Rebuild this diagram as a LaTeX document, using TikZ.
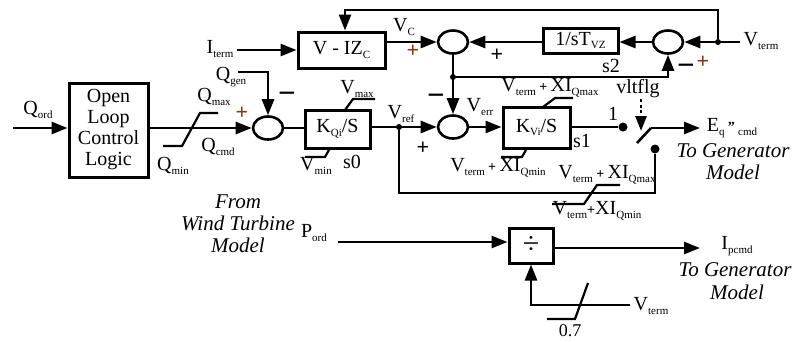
\documentclass[tikz,border=0pt]{standalone}
\usepackage{fontspec}
\setmainfont{Liberation Serif}
\usetikzlibrary{arrows.meta,shapes.geometric}
\newcommand\sbs[1]{\raisebox{-3.5pt}{\fontsize{11}{11}\selectfont #1}}
\newcommand\smplus{{\fontsize{14}{14}\selectfont\bfseries +}}
\definecolor{plusbrown}{RGB}{130,55,25}
\begin{document}
\begin{tikzpicture}[x=1pt,y=-1pt,
  conn/.style={line width=2.6pt,-{Triangle[length=16pt,width=12pt]}},
  wire/.style={line width=2.6pt},
  blk/.style={draw,line width=3pt,inner sep=0pt,font=\fontsize{20}{24}\selectfont},
  sumc/.style={draw,ellipse,line width=2.6pt,minimum width=30pt,minimum height=23pt,inner sep=0pt},
  lim/.style={line width=2.2pt},
  lbl/.style={inner sep=0pt,font=\fontsize{20}{24}\selectfont},
  ital/.style={inner sep=0pt,font=\fontsize{21}{21}\selectfont\itshape},
  plus/.style={inner sep=0pt,font=\fontsize{22}{22}\selectfont\bfseries},
  minus/.style={inner sep=0pt,font=\fontsize{31}{31}\selectfont\bfseries},
  term/.style={circle,fill,inner sep=0pt,minimum size=9pt},
  jn/.style={circle,fill,inner sep=0pt,minimum size=6pt},
]
\useasboundingbox (0,0) rectangle (795,341);

% blocks
\node[blk,minimum width=79pt,minimum height=94pt,align=center,font=\fontsize{20}{21}\selectfont] (olcl) at (108.5,130) {Open\\Loop\\Control\\Logic};
\node[blk,minimum width=65pt,minimum height=38pt] (kqi) at (337.5,129) {K\sbs{Qi}/S};
\node[blk,minimum width=67pt,minimum height=41pt] (kvi) at (536.5,127.5) {K\sbs{Vi}/S};
\node[blk,minimum width=87pt,minimum height=36pt] (vizc) at (341.5,50) {V - IZ\sbs{C}};
\node[blk,minimum width=75pt,minimum height=25pt] (tvz) at (580.5,40.5) {1/sT\sbs{VZ}};
\node[blk,minimum width=44pt,minimum height=35pt,font=\fontsize{30}{30}\selectfont] (div) at (531,245.5) {÷};

% summing junctions
\node[sumc] (sum1) at (268,128) {};
\node[sumc] (sum2) at (453,127) {};
\node[sumc] (sum3) at (668,42) {};
\node[sumc] (sum4) at (453,42) {};

% coordinates and dots
\coordinate (qordin) at (13,128);
\coordinate (qgen) at (238,72);
\coordinate (iterm) at (237,50);
\coordinate (vtin) at (740,42);
\node[jn] (jv) at (718,42) {};
\coordinate (fb) at (345,10);
\node[jn] (j2) at (453,77) {};
\node[jn] (jr) at (399,127) {};
\coordinate (bl) at (655,193);
\node[term] (sw1) at (623,127) {};
\node[term] (sw2) at (655,149) {};
\coordinate (swa) at (637,143);
\coordinate (swb) at (651,128);
\coordinate (eout) at (700,128);
\coordinate (vf) at (641,99);
\coordinate (vft) at (641,131);
\coordinate (pord) at (338,242);
\coordinate (iout) at (700,248);
\coordinate (vtb) at (630,305);

% connectors
\draw[conn] (qordin) -- (olcl.west |- qordin);
\draw[conn] (olcl.east |- sum1) -- (sum1.west);
\draw[conn] (qgen) -| (sum1.north);
\draw[wire] (sum1.east) -- (sum1.east -| kqi.west);
\draw[conn] (kqi.east |- sum2) -- (sum2.west);
\draw[conn] (sum2.east) -- (sum2.east -| kvi.west);
\draw[wire] (kvi.east |- sw1) -- (sw1);
\draw[wire] (swa) -- (swb);
\draw[conn] (swb) -- (eout);
\draw[line width=2.6pt,dash pattern=on 3pt off 2.5pt,-{Triangle[length=15pt,width=11pt]}] (vf) -- (vft);
\draw[wire] (jr) |- (bl) -- (sw2);
\draw[conn] (vtin) -- (sum3.east);
\draw[conn] (jv) |- (fb) -- (fb |- vizc.north);
\draw[conn] (iterm) -- (vizc.west |- iterm);
\draw[conn] (vizc.east |- sum4) -- (sum4.west);
\draw[conn] (sum3.west) -- (tvz.east |- sum3);
\draw[conn] (tvz.west |- sum4) -- (sum4.east);
\draw[conn] (sum4.south) -- (sum2.north);
\draw[conn] (j2) -| (sum3.south);
\draw[conn] (pord) -- (pord -| div.west);
\draw[conn] (div.east |- iout) -- (iout);
\draw[conn] (vtb) -- (vtb -| div.south) -- (div.south);

% limiters
\draw[lim] (163,146) -- (182,146) -- (200,113) -- (218,113);
\draw[lim] (345,110) -- (353,99) -- (375,99);
\draw[lim] (330,148) -- (325,157) -- (305,157);
\draw[lim] (543,107) -- (555,98) -- (573,98);
\draw[lim] (527,148) -- (522,157) -- (501,157);
\draw[lim] (552,204) -- (584,204) -- (597,185) -- (620,185);
\draw[lim] (547,319) -- (575,319) -- (588,283);

% labels
\node[lbl] (lqord) at (38,110) {Q\sbs{ord}};
\node[lbl] (lqmax) at (214,97) {Q\sbs{max}};
\node[lbl] (lqcmd) at (218,147) {Q\sbs{cmd}};
\node[lbl] (lqmin) at (173,166) {Q\sbs{min}};
\node[lbl] (lqgen) at (231,77) {Q\sbs{gen}};
\node[plus,text=plusbrown] (p1) at (242,113) {+};
\node[minus] (m1) at (287,98) {−};
\node[lbl] (lvmax) at (357,89) {V\sbs{max}};
\node[lbl] (lvmin) at (316,166) {V\sbs{min}};
\node[lbl] (ls0) at (352,162) {s0};
\node[lbl] (lvref) at (401,114) {V\sbs{ref}};
\node[plus] (p2) at (423,148) {+};
\node[minus] (m2) at (436,100) {−};
\node[lbl] (lverr) at (480,107) {V\sbs{err}};
\node[lbl] (lvc) at (404,27) {V\sbs{C}};
\node[plus,text=plusbrown] (p3) at (413,51) {+};
\node[lbl] (literm) at (220,49) {I\sbs{term}};
\node[plus] (p4) at (497,55) {+};
\node[lbl] (ls2) at (611,66) {s2};
\node[plus,text=plusbrown] (p5) at (703,62) {+};
\node[minus] (m3) at (686,70) {−};
\node[lbl] (lvterm) at (761,41) {V\sbs{term}};
\node[lbl] (lxmax1) at (550,88) {V\sbs{term}\,\smplus\,XI\sbs{Qmax}};
\node[lbl] (lxmin1) at (498,168) {V\sbs{term}\,\smplus\,XI\sbs{Qmin}};
\node[lbl] (ls1) at (582,141) {s1};
\node[lbl] (lone) at (613,114) {1};
\node[lbl] (lvlt) at (638,89) {vltflg};
\node[lbl] (leq) at (732,128) {E\sbs{q}\,{\fontsize{14}{14}\selectfont\bfseries "}\,\sbs{cmd}};
\node[ital] (ltg1) at (733,151) {To Generator};
\node[ital] (lm1) at (733,172) {Model};
\node[lbl] (lxmax2) at (607,175) {V\sbs{term}\,\smplus\,XI\sbs{Qmax}};
\node[lbl] (lxmin2) at (597,211) {V\sbs{term}\smplus XI\sbs{Qmin}};
\node[ital] (lfrom) at (238,202) {From};
\node[ital] (lwind) at (238,223) {Wind Turbine};
\node[ital] (lmod) at (238,245) {Model};
\node[lbl] (lpord) at (314,233) {P\sbs{ord}};
\node[lbl] (lipcmd) at (737,246) {I\sbs{pcmd}};
\node[ital] (ltg2) at (735,270) {To Generator};
\node[ital] (lm2) at (737,292) {Model};
\node[lbl] (lvtb) at (651,306) {V\sbs{term}};
\node[lbl,font=\fontsize{18}{18}\selectfont] (l07) at (570,331) {0.7};
\end{tikzpicture}
\end{document}
